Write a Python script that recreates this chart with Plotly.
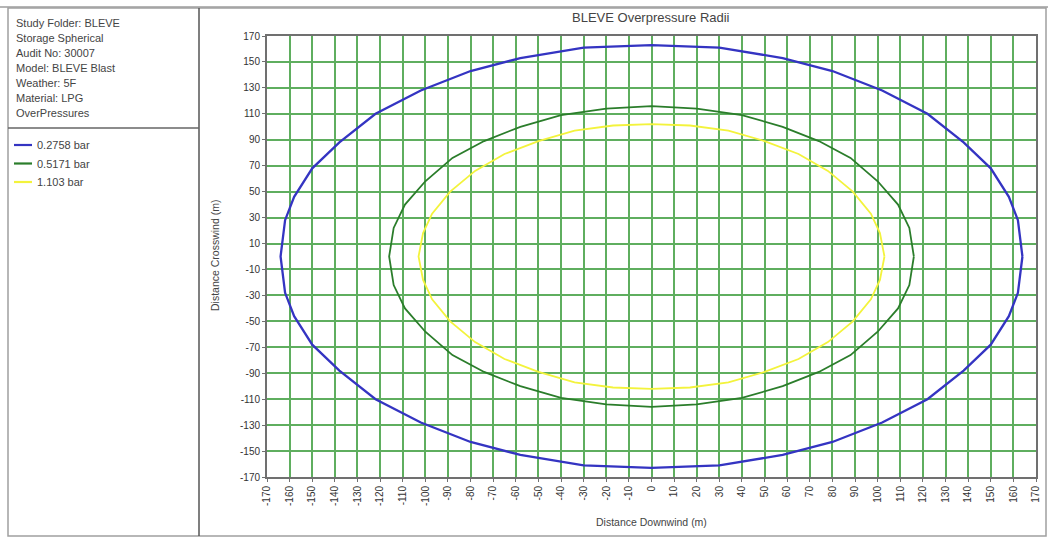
import plotly.graph_objects as go

# ---- data ----
series_names = ["0.2758 bar", "0.5171 bar", "1.103 bar"]
series_colors = ["#3434c2", "#2b7d2b", "#f3f33c"]

blue_x = [164, 162, 158, 150, 138, 122, 102, 80, 58, 30, 0, -30, -58, -80, -102, -122, -138, -150, -158, -162, -164,
          -162, -158, -150, -138, -122, -102, -80, -58, -30, 0, 30, 58, 80, 102, 122, 138, 150, 158, 162, 164]
blue_y = [0, 28, 46, 68, 88, 110, 128, 143, 153, 161, 163, 161, 153, 143, 128, 110, 88, 68, 46, 28, 0,
          -28, -46, -68, -88, -110, -128, -143, -153, -161, -163, -161, -153, -143, -128, -110, -88, -68, -46, -28, 0]

green_x = [116, 114, 109, 100, 88, 74, 58, 40, 20, 0, -20, -40, -58, -74, -88, -100, -109, -114, -116,
           -114, -109, -100, -88, -74, -58, -40, -20, 0, 20, 40, 58, 74, 88, 100, 109, 114, 116]
green_y = [0, 22, 40, 58, 76, 89, 100, 109, 114, 116, 114, 109, 100, 89, 76, 58, 40, 22, 0,
           -22, -40, -58, -76, -89, -100, -109, -114, -116, -114, -109, -100, -89, -76, -58, -40, -22, 0]

yellow_x = [103, 101, 97, 89, 78, 65, 50, 34, 17, 0, -17, -34, -50, -65, -78, -89, -97, -101, -103,
            -101, -97, -89, -78, -65, -50, -34, -17, 0, 17, 34, 50, 65, 78, 89, 97, 101, 103]
yellow_y = [0, 18, 33, 50, 66, 79, 89, 97, 101, 102, 101, 97, 89, 79, 66, 50, 33, 18, 0,
            -18, -33, -50, -66, -79, -89, -97, -101, -102, -101, -97, -89, -79, -66, -50, -33, -18, 0]

info_lines = ["Study Folder: BLEVE", "Storage Spherical", "Audit No: 30007", "Model: BLEVE Blast",
              "Weather: 5F", "Material: LPG", "OverPressures"]

x_ticks = list(range(-170, 171, 10))
y_ticks = list(range(-170, 171, 20))

title_text = "BLEVE Overpressure Radii"
x_title = "Distance Downwind (m)"
y_title = "Distance Crosswind (m)"

# ---- layout geometry (pixels) ----
W, H = 1048, 538
L, R, T, B = 267, 1036, 36, 477
PW, PH = R - L, B - T


def px(x):
    return (x - L) / PW


def py(y):
    return (B - y) / PH


fig = go.Figure()
for xs, ys, name, col, w in [
    (blue_x, blue_y, series_names[0], series_colors[0], 2.3),
    (green_x, green_y, series_names[1], series_colors[1], 1.8),
    (yellow_x, yellow_y, series_names[2], series_colors[2], 1.8),
]:
    fig.add_trace(go.Scatter(x=xs, y=ys, mode="lines", name=name, showlegend=False,
                             line=dict(color=col, width=w)))

font_fam = "Liberation Sans, Arial, sans-serif"
annotations = []
shapes = []
for i, t in enumerate(info_lines):
    annotations.append(dict(x=px(14), y=py(23 + 15 * i), xref="paper", yref="paper", text=t,
                            showarrow=False, xanchor="left", yanchor="middle",
                            font=dict(family=font_fam, size=11, color="#444444")))

# legend panel: short line samples plus labels
for i, (name, col) in enumerate(zip(series_names, series_colors)):
    yy = 145 + 18.5 * i
    shapes.append(dict(type="line", xref="paper", yref="paper", x0=px(14), x1=px(32),
                       y0=py(yy), y1=py(yy), line=dict(color=col, width=2.2)))
    annotations.append(dict(x=px(35), y=py(yy), xref="paper", yref="paper", text=name,
                            showarrow=False, xanchor="left", yanchor="middle",
                            font=dict(family=font_fam, size=11, color="#444444")))

annotations.append(dict(x=px(651), y=py(18), xref="paper", yref="paper", text=title_text,
                        showarrow=False, xanchor="center", yanchor="middle",
                        font=dict(family=font_fam, size=13, color="#444444")))
annotations.append(dict(x=px(651), y=py(522), xref="paper", yref="paper", text=x_title,
                        showarrow=False, xanchor="center", yanchor="middle",
                        font=dict(family=font_fam, size=10.5, color="#444444")))
annotations.append(dict(x=px(215), y=py(256), xref="paper", yref="paper", text=y_title,
                        showarrow=False, xanchor="center", yanchor="middle", textangle=-90,
                        font=dict(family=font_fam, size=10.5, color="#444444")))

shapes += [
    dict(type="line", xref="paper", yref="paper", x0=px(0), x1=px(W), y0=py(7), y1=py(7),
         line=dict(color="#b5b5b5", width=2)),
    dict(type="rect", xref="paper", yref="paper", x0=px(8), x1=px(1046), y0=py(8), y1=py(536),
         line=dict(color="#a0a0a0", width=1.5)),
    dict(type="line", xref="paper", yref="paper", x0=px(199), x1=px(199), y0=py(8), y1=py(536),
         line=dict(color="#555555", width=1.5)),
    dict(type="line", xref="paper", yref="paper", x0=px(8), x1=px(199), y0=py(128), y1=py(128),
         line=dict(color="#666666", width=1.5)),
]

axis_common = dict(showgrid=True, gridcolor="#5fae5f", gridwidth=1.5, zeroline=False,
                   showline=True, linecolor="#707070", linewidth=2, mirror=True,
                   ticks="outside", ticklen=3, tickcolor="#707070",
                   tickfont=dict(family=font_fam, size=10, color="#333333"),
                   fixedrange=True)

fig.update_layout(
    width=W, height=H,
    margin=dict(l=L, r=W - R, t=T, b=H - B, pad=0, autoexpand=False),
    paper_bgcolor="white", plot_bgcolor="white",
    xaxis=dict(range=[-170, 170], tickmode="array", tickvals=x_ticks,
               ticktext=[str(v) for v in x_ticks], tickangle=-90, **axis_common),
    yaxis=dict(range=[-170, 170], tickmode="array", tickvals=y_ticks,
               ticktext=[str(v) for v in y_ticks], **axis_common),
    showlegend=False,
    annotations=annotations,
    shapes=shapes,
)

fig.write_html("out.html", config={"displayModeBar": False},
               post_script="document.body.style.margin='0';document.body.style.overflow='hidden';")
